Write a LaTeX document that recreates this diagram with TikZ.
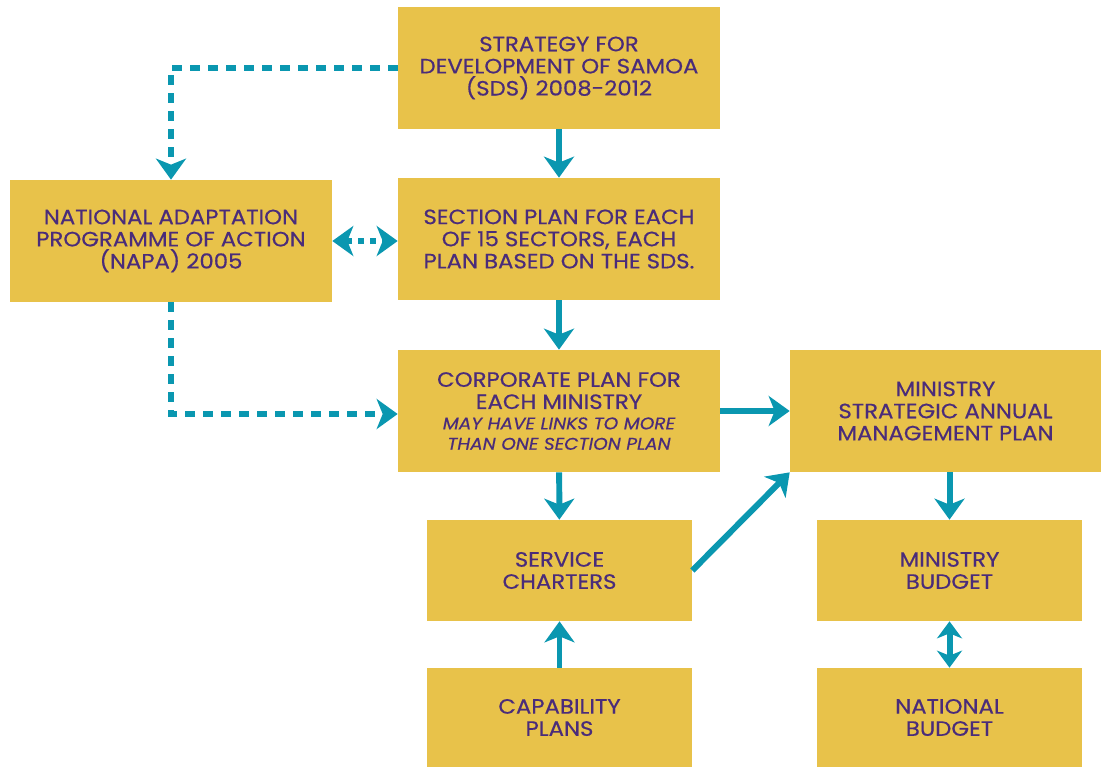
\documentclass[tikz,border=0pt]{standalone}
\usepackage{fontspec}
\setmainfont{Poppins}[FakeStretch=1.1,FakeBold=0.5]
\usepackage{tikz}
\usetikzlibrary{
	arrows.meta,
	calc,
	positioning,
}
\definecolor{boxyellow}{HTML}{E8C24A}
\definecolor{textpurple}{HTML}{4A2C7A}
\definecolor{linkteal}{HTML}{0A97B0}
\tikzset{plan node/.style={
	fill=boxyellow,
	inner sep=0mm,
	align=center,
	text=textpurple,
	font=\fontsize{11.8}{12.6}\selectfont,
	minimum width=6.44cm,
	minimum height=2.44cm,
}}
\tikzset{small plan/.style={
	plan node,
	minimum width=5.3cm,
	minimum height=2.02cm,
}}
\tikzset{link/.style={
	draw=linkteal,
	line width=3.4pt,
	-{Stealth[length=4.2mm,width=6mm,inset=1.2mm]},
}}
\tikzset{loose link/.style={
	link,
	line width=3.8pt,
	dash pattern=on 2mm off 1.6mm,
}}

\begin{document}
\begin{tikzpicture}[x=0.02cm,y=-0.02cm]
\useasboundingbox (0,0) rectangle (1101,767);

\node(sds)[plan node] at(559,68) {STRATEGY FOR\\DEVELOPMENT OF SAMOA\\(SDS) 2008-2012};
\node(napa)[plan node] at(171,241) {NATIONAL ADAPTATION\\PROGRAMME OF ACTION\\(NAPA) 2005};
\node(sector)[plan node] at(559,239) {SECTION PLAN FOR EACH\\OF 15 SECTORS, EACH\\PLAN BASED ON THE SDS.};
\node(corp)[plan node] at(559,411) {CORPORATE PLAN FOR\\EACH MINISTRY\\[-1pt]
	{\fontsize{9.6}{11}\selectfont\itshape MAY HAVE LINKS TO MORE}\\[-1pt]
	{\fontsize{9.6}{11}\selectfont\itshape THAN ONE SECTION PLAN}};
\node(samp)[plan node,minimum width=6.22cm] at(945.5,411) {MINISTRY\\STRATEGIC ANNUAL\\MANAGEMENT PLAN};
\node(charters)[small plan] at(559.5,570.5) {SERVICE\\CHARTERS};
\node(mbudget)[small plan] at(949.5,570.5) {MINISTRY\\BUDGET};
\node(capability)[small plan,minimum height=1.98cm] at(559.5,717.5) {CAPABILITY\\PLANS};
\node(nbudget)[small plan,minimum height=1.98cm] at(949.5,717.5) {NATIONAL\\BUDGET};

\draw[link] (sds) -- (sector);
\draw[link] (sector) -- (corp);
\draw[link] (corp) -- (charters);
\draw[link] (corp.east) -- (corp.east -| samp.west);
\draw[link] (charters.east) -- (samp.south west);
\draw[link] (samp.south -| mbudget) -- (mbudget);
\draw[link] (capability) -- (charters);
\draw[link,{Stealth[length=3.4mm,width=5mm,inset=1mm]}-{Stealth[length=3.4mm,width=5mm,inset=1mm]}] (mbudget) -- (nbudget);

\draw[loose link] (sds.west |- 0,68) -| (napa.north);
\draw[loose link] (napa.south) |- (corp.west |- 0,414);
\draw[loose link,dash pattern=on 1.2mm off 1.2mm,{Stealth[length=4.2mm,width=6mm,inset=1.2mm]}-{Stealth[length=4.2mm,width=6mm,inset=1.2mm]}] (napa.east |- 0,241) -- (sector.west |- 0,241);
\end{tikzpicture}
\end{document}
